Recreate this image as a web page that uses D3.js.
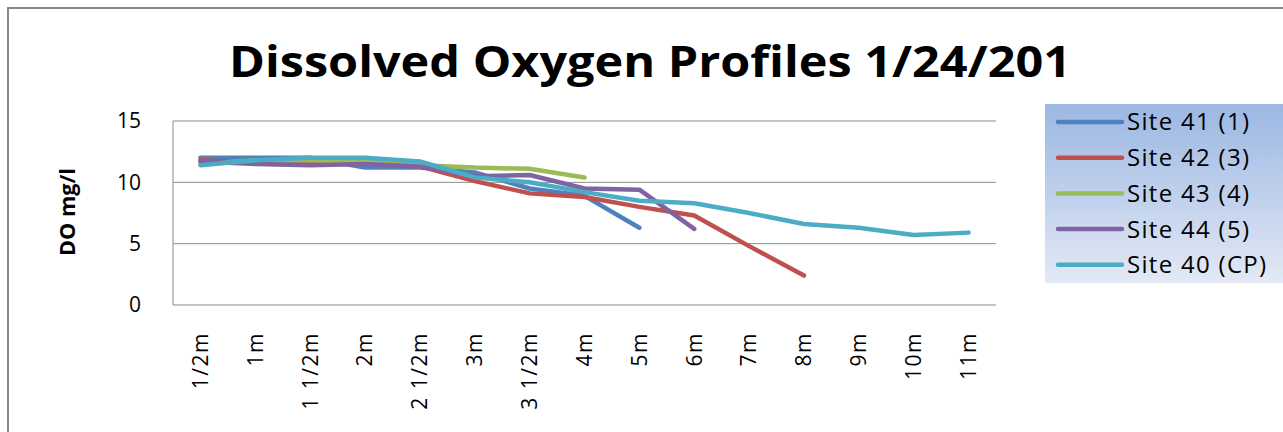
<!DOCTYPE html>
<html lang="en">
	<head>
		<meta charset="UTF-8" />
		<title>Dissolved Oxygen Profiles</title>
		<script src="https://d3js.org/d3.v7.min.js"></script>
		<style>
			body { margin: 0; background: #fff; }
			text { font-family: 'Open Sans', 'DejaVu Sans', sans-serif; fill: #000; }
		</style>
	</head>
	<body>
		<svg width="1283" height="432"></svg>

		<script>
			const depths = ['1/2m', '1m', '1 1/2m', '2m', '2 1/2m', '3m', '3 1/2m', '4m', '5m', '6m', '7m', '8m', '9m', '10m', '11m'];
			const yTicks = [0, 5, 10, 15];

			const site41 = [12.0, 12.0, 12.0, 11.2, 11.2, 10.8, 9.5, 8.9, 6.3];
			const site42 = [11.8, 11.6, 11.5, 11.6, 11.3, 10.1, 9.1, 8.8, 8.0, 7.3, 4.8, 2.4];
			const site43 = [11.5, 11.8, 11.8, 11.7, 11.4, 11.2, 11.1, 10.4];
			const site44 = [11.7, 11.5, 11.4, 11.5, 11.3, 10.5, 10.6, 9.5, 9.4, 6.2];
			const site40 = [11.4, 11.8, 12.0, 12.0, 11.7, 10.4, 10.0, 9.2, 8.5, 8.3, 7.5, 6.6, 6.3, 5.7, 5.9];

			const seriesNames = ['Site 41 (1)', 'Site 42 (3)', 'Site 43 (4)', 'Site 44 (5)', 'Site 40 (CP)'];
			const seriesValues = [site41, site42, site43, site44, site40];
			const colors = ['#4F81BD', '#C0504D', '#9BBB59', '#8064A2', '#4BACC6'];

			const svg = d3.select('svg');

			// outer chart frame
			svg.append('rect').attr('x', 8).attr('y', 8).attr('width', 1300).attr('height', 450)
				.attr('fill', 'none').attr('stroke', '#888').attr('stroke-width', 2);

			svg.append('text').attr('x', 650).attr('y', 77).attr('text-anchor', 'middle')
				.style('font-size', '43px').style('font-weight', 'bold')
				.attr('textLength', 842).attr('lengthAdjust', 'spacingAndGlyphs')
				.text('Dissolved Oxygen Profiles 1/24/201');

			const plot = { left: 173, right: 996, top: 121, bottom: 305 };

			const x = d3.scaleBand().domain(depths).range([plot.left, plot.right]);
			const y = d3.scaleLinear().domain([0, 15]).range([plot.bottom, plot.top]);

			// gridlines
			svg.append('g').selectAll('line').data(yTicks).enter().append('line')
				.attr('x1', plot.left).attr('x2', plot.right)
				.attr('y1', d => y(d)).attr('y2', d => y(d))
				.attr('stroke', '#8c8c8c').attr('stroke-width', 1);

			svg.append('line').attr('x1', plot.left).attr('x2', plot.left)
				.attr('y1', plot.top).attr('y2', plot.bottom)
				.attr('stroke', '#8c8c8c').attr('stroke-width', 1);

			const yAxis = svg.append('g').attr('transform', `translate(${plot.left},0)`)
				.call(d3.axisLeft(y).tickValues(yTicks).tickSize(0).tickPadding(32));
			yAxis.select('.domain').remove();
			yAxis.selectAll('text').style('font-size', '21px').style('font-family', "'Open Sans', sans-serif").attr('fill', '#000');

			const xAxis = svg.append('g').attr('transform', `translate(0,${plot.bottom})`)
				.call(d3.axisBottom(x).tickSize(0));
			xAxis.select('.domain').remove();
			xAxis.selectAll('text')
				.style('font-size', '21px').style('font-family', "'Open Sans', sans-serif").attr('fill', '#000')
				.style('letter-spacing', '1.5px')
				.attr('text-anchor', 'end')
				.attr('transform', 'rotate(-90)')
				.attr('x', -27).attr('y', 0).attr('dy', '0.35em');

			svg.append('text')
				.attr('transform', 'translate(75,212) rotate(-90)')
				.attr('text-anchor', 'middle')
				.style('font-size', '21px').style('font-weight', 'bold')
				.attr('textLength', 88).attr('lengthAdjust', 'spacingAndGlyphs')
				.text('DO mg/l');

			const line = d3.line()
				.x((d, i) => x(depths[i]) + x.bandwidth() / 2)
				.y(d => y(d));

			svg.append('g').selectAll('path').data(seriesValues).enter().append('path')
				.attr('d', d => line(d))
				.attr('fill', 'none')
				.attr('stroke', (d, i) => colors[i])
				.attr('stroke-width', 4.5)
				.attr('stroke-linejoin', 'round')
				.attr('stroke-linecap', 'round');

			// legend
			const grad = svg.append('defs').append('linearGradient').attr('id', 'lg')
				.attr('x1', 0).attr('y1', 0).attr('x2', 0).attr('y2', 1);
			grad.append('stop').attr('offset', '0%').attr('stop-color', '#9bb7e3');
			grad.append('stop').attr('offset', '100%').attr('stop-color', '#e3e9f5');

			svg.append('rect').attr('x', 1045).attr('y', 104).attr('width', 240).attr('height', 179)
				.attr('fill', 'url(#lg)');

			const legend = svg.append('g').selectAll('g').data(seriesNames).enter().append('g')
				.attr('transform', (d, i) => `translate(1058,${122 + i * 35.7})`);
			legend.append('line').attr('x1', 0).attr('x2', 64).attr('y1', 0).attr('y2', 0)
				.attr('stroke', (d, i) => colors[i]).attr('stroke-width', 4.5).attr('stroke-linecap', 'round');
			legend.append('text').attr('x', 69).attr('dy', '0.35em')
				.style('font-size', '24px').style('letter-spacing', '1.3px').text(d => d);
		</script>
	</body>
</html>
